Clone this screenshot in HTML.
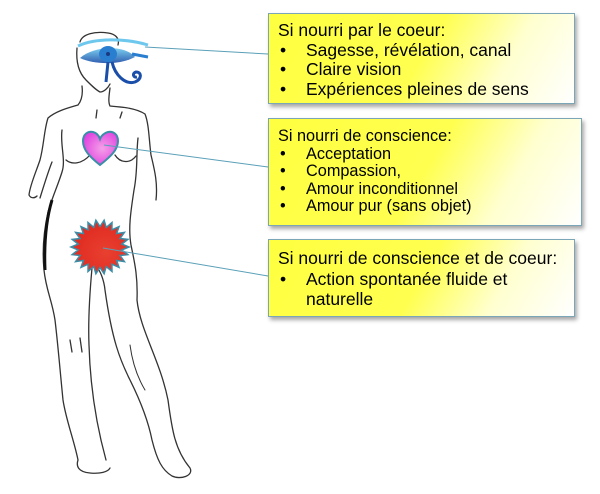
<!DOCTYPE html>
<html><head><meta charset="utf-8"><style>
body{margin:0;width:600px;height:494px;background:#fff;position:relative;overflow:hidden;font-family:"Liberation Sans",sans-serif;}
.box{position:absolute;border:1.5px solid #7aa6b8;background:linear-gradient(120deg,#ffff40 0%,#ffff50 50%,#ffffd0 75%,#fff 100%);box-shadow:2px 3px 4px rgba(0,0,0,0.35);box-sizing:border-box;color:#000;}
.box p{margin:0;white-space:nowrap;}
.b{display:inline-block;width:28px;text-indent:2px;}
svg{position:absolute;left:0;top:0;}
</style></head><body>
<svg width="600" height="494" viewBox="0 0 600 494">
<defs>
<radialGradient id="hg" cx="0.55" cy="0.5" r="0.6"><stop offset="0" stop-color="#f4a0e8"/><stop offset="1" stop-color="#e040e0"/></radialGradient>
<radialGradient id="sg" cx="0.6" cy="0.6" r="0.6"><stop offset="0" stop-color="#e84030"/><stop offset="1" stop-color="#e02a20"/></radialGradient>
<linearGradient id="eg" x1="0" y1="0" x2="0" y2="1"><stop offset="0" stop-color="#6ec8ee"/><stop offset="1" stop-color="#1a4ea8"/></linearGradient>
</defs>
<g fill="none" stroke="#333" stroke-width="1.3" stroke-linecap="round">
<path d="M80,42 C82,34 95,31 108,33 C115,34 120,38 118,45"/>
<path d="M77,48 C76,60 78,72 86,80 C92,86 96,90 100,92 C104,92 108,88 110,84"/>
<path d="M82,86 C83,94 82,100 78,105 C68,108 56,111 48,118 C44,130 44,145 40,160 C36,172 30,185 29,195 C31,199 35,198 37,196"/>
<path d="M40,198 C44,185 48,172 52,162"/>
<path d="M110,88 C109,96 108,102 110,106 C122,107 136,108 145,114 C149,124 149,140 151,155 C154,168 158,182 156,200"/>
<path d="M62,130 C60,145 66,160 62,172 C58,185 52,198 48,212 C44,230 42,250 44,270 C46,290 52,300 55,320 C58,345 60,370 63,400 C66,420 74,440 78,460 C76,466 78,472 90,473 C100,474 108,472 110,468"/>
<path d="M138,138 C136,155 138,170 134,190 C131,210 128,228 131,245 C134,260 138,275 137,300 C140,330 160,360 168,400 C172,430 175,450 190,468 C194,476 180,480 172,476 C162,470 157,460 152,440 C148,420 140,400 130,380 C120,360 112,340 105,290 C104,280 100,270 97,268"/>
<path d="M92,268 C90,290 88,320 89,345 C90,380 95,420 106,460"/>
<path d="M66,160 C72,165 82,164 90,155"/>
<path d="M115,155 C120,163 130,164 136,156"/>
<path d="M96,118 L97,110 M120,118 L122,112"/>
<path d="M70,340 L72,352 M80,338 L82,352"/>
<path d="M130,345 C132,360 136,375 145,390" stroke-width="1"/>
</g>
<path d="M52,200 C46,220 44,245 45,270" stroke="#111" stroke-width="3" fill="none"/>
<!-- eye -->
<path d="M78,46 C95,38 125,38 148,45" stroke="#6ec8ee" stroke-width="3" fill="none"/>
<path d="M80,58 C95,45 125,45 135,57 C120,65 95,65 80,58 Z" fill="url(#eg)" opacity="0.9"/>
<ellipse cx="108" cy="54" rx="9" ry="8" fill="#2a7ed0"/>
<circle cx="108" cy="54" r="2" fill="#1a3a80"/>
<path d="M108,62 L106,82 M112,62 C115,75 125,85 135,82 C142,79 142,72 136,72 C132,73 133,78 137,77" stroke="#1a4ea8" stroke-width="3" fill="none"/>
<path d="M132,54 L148,57" stroke="#2a7ed0" stroke-width="3"/>
<!-- heart -->
<path d="M100,165 C90,157 83,150 83,141 C83,134 88,131 93,132 C97,133 99,136 100,139 C101,136 104,133 108,132 C113,131 118,134 118,141 C118,150 110,157 100,165 Z" fill="url(#hg)" stroke="#3a8ea8" stroke-width="2"/>
<!-- star -->
<polygon id="star" fill="url(#sg)" stroke="#3a8ea8" stroke-width="1.5" points=""/>
<!-- connectors -->
<g stroke="#5aa0b8" stroke-width="1"><line x1="145" y1="47" x2="268" y2="54"/><line x1="104" y1="145" x2="268" y2="167"/><line x1="103" y1="248" x2="268" y2="276"/></g>
</svg>
<script>
(function(){var p=[],n=22,cx=100,cy=247;for(var i=0;i<n*2;i++){var a=Math.PI*i/n,r=i%2?22:29;p.push((cx+r*Math.cos(a)).toFixed(1)+","+(cy+r*0.93*Math.sin(a)).toFixed(1));}document.getElementById('star').setAttribute('points',p.join(' '));})();
</script>
<div class="box" style="left:268px;top:13px;width:307px;height:91px;font-size:17.5px;line-height:19.5px;padding:7px 0 0 9px;">
<p>Si nourri par le coeur:</p><p><span class="b">•</span>Sagesse, révélation, canal</p><p><span class="b">•</span>Claire vision</p><p><span class="b">•</span>Expériences pleines de sens</p></div>
<div class="box" style="left:268px;top:118px;width:314px;height:108px;font-size:16.3px;line-height:17.5px;padding:9px 0 0 9px;">
<p>Si nourri de conscience:</p><p><span class="b">•</span>Acceptation</p><p><span class="b">•</span>Compassion,</p><p><span class="b">•</span>Amour inconditionnel</p><p><span class="b">•</span>Amour pur (sans objet)</p></div>
<div class="box" style="left:268px;top:239px;width:307px;height:78px;font-size:17.5px;line-height:20.5px;padding:8px 0 0 9px;">
<p>Si nourri de conscience et de coeur:</p><p><span class="b">•</span>Action spontanée fluide et</p><p><span class="b"></span>naturelle</p></div>
</body></html>
